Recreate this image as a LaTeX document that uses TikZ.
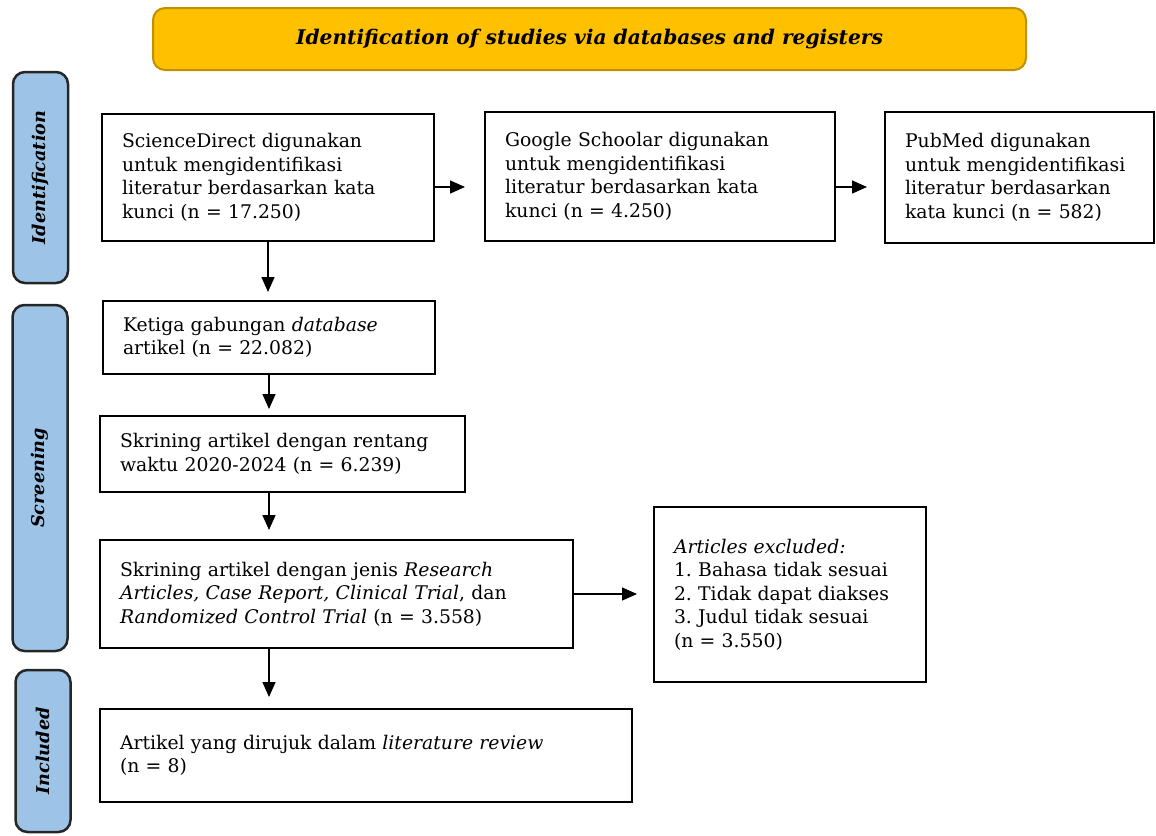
\documentclass[tikz,border=0pt]{standalone}
\usepackage{fontspec}
\setmainfont{DejaVu Serif}
\usetikzlibrary{arrows.meta}
\frenchspacing
\definecolor{titlefill}{HTML}{FFC000}
\definecolor{titleline}{HTML}{BF9000}
\definecolor{stagefill}{HTML}{9DC3E6}
\tikzset{
  box/.style={draw, line width=2pt, rectangle, inner xsep=20pt, align=left, font=\fontsize{18.8}{23.5}\selectfont},
  stage/.style={draw=black!85, fill=stagefill, line width=2.5pt, rounded corners=12pt, rotate=90, minimum height=55pt, font=\fontsize{17.6}{20}\selectfont\bfseries\itshape},
  arr/.style={-{Triangle[length=15pt,width=13pt]}, line width=1.5pt},
}
\begin{document}
\begin{tikzpicture}[x=1pt,y=-1pt]
\useasboundingbox (0,0) rectangle (1156,835);
\node[draw=titleline, fill=titlefill, line width=2pt, rounded corners=12pt, minimum width=873pt, minimum height=62pt, font=\fontsize{20.2}{22}\selectfont\bfseries\itshape] (title) at (589.5,39) {Identification of studies via databases and registers};

\node[stage, minimum width=211pt] (stgid) at (40.5,177.5) {Identification};
\node[stage, minimum width=346pt] (stgscr) at (40,478) {Screening};
\node[stage, minimum width=162pt] (stginc) at (43,751) {Included};

\node[box, text width=292pt, minimum height=127pt] (sd) at (268,177.5) {ScienceDirect digunakan\\ untuk mengidentifikasi\\ literatur berdasarkan kata\\ kunci (n = 17.250)};
\node[box, text width=310pt, minimum height=129pt] (google) at (660,176.5) {Google Schoolar digunakan\\ untuk mengidentifikasi\\ literatur berdasarkan kata\\ kunci (n = 4.250)};
\node[box, text width=229pt, minimum height=131pt] (pubmed) at (1019.5,177.5) {PubMed digunakan\\ untuk mengidentifikasi\\ literatur berdasarkan\\ kata kunci (n = 582)};
\node[box, text width=292pt, minimum height=73pt] (ketiga) at (269,337.5) {Ketiga gabungan \textit{database}\\ artikel (n = 22.082)};
\node[box, text width=325pt, minimum height=76pt] (skr1) at (282.5,454) {Skrining artikel dengan rentang\\ waktu 2020-2024 (n = 6.239)};
\node[box, text width=433pt, minimum height=108pt] (skr2) at (336.5,594) {Skrining artikel dengan jenis \textit{Research}\\ \textit{Articles, Case Report, Clinical Trial}, dan\\ \textit{Randomized Control Trial} (n = 3.558)};
\node[box, text width=232pt, minimum height=175pt] (excl) at (790,594.5) {\textit{Articles excluded:}\\ 1. Bahasa tidak sesuai\\ 2. Tidak dapat diakses\\ 3. Judul tidak sesuai\\ (n = 3.550)};
\node[box, text width=492pt, minimum height=93pt] (incl) at (366,755.5) {Artikel yang dirujuk dalam \textit{literature review}\\ (n = 8)};

\draw[arr, shorten >=19pt] ([yshift=-9.5pt]sd.east) -- ([yshift=-9.5pt]sd.east -| google.west);
\draw[arr, shorten >=17pt] ([yshift=-10.5pt]google.east) -- ([yshift=-10.5pt]google.east -| pubmed.west);
\draw[arr, shorten >=8pt] (sd.south) -- (sd.south |- ketiga.north);
\draw[arr, shorten >=6pt] (ketiga.south) -- (ketiga.south |- skr1.north);
\draw[arr, shorten >=9pt] (ketiga.south |- skr1.south) -- (ketiga.south |- skr2.north);
\draw[arr, shorten >=11pt] (ketiga.south |- skr2.south) -- (ketiga.south |- incl.north);
\draw[arr, shorten >=16pt] (skr2.east) -- (skr2.east -| excl.west);
\end{tikzpicture}
\end{document}
